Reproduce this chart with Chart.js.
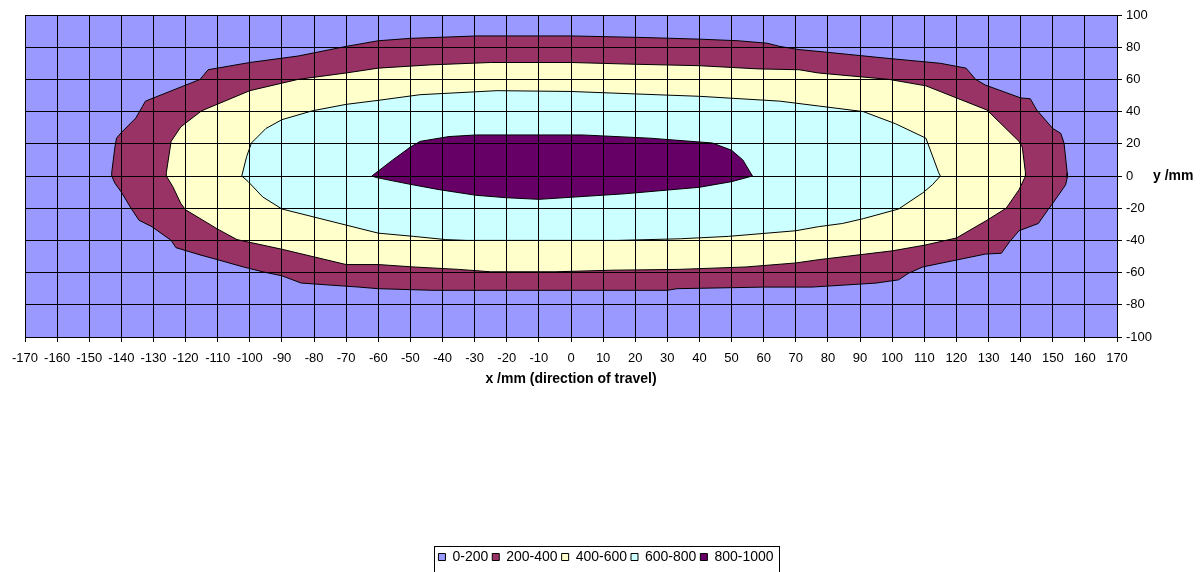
<!DOCTYPE html>
<html>
<head>
<meta charset="utf-8">
<script src="https://cdn.jsdelivr.net/npm/chart.js@4.4.1/dist/chart.umd.min.js"></script>
<style>
    html, body { margin: 0; padding: 0; background: #fff; }
    #wrap { width: 1203px; height: 572px; }
</style>
</head>
<body>
<div id="wrap"><canvas id="graficoContorno" width="1203" height="572"></canvas></div>
<script>
// ======================================
// DADOS (em mm)
// ======================================
const faixas = ['0-200', '200-400', '400-600', '600-800', '800-1000'];

const ticksX = [-170, -160, -150, -140, -130, -120, -110, -100, -90, -80, -70, -60, -50, -40, -30, -20, -10,
    0, 10, 20, 30, 40, 50, 60, 70, 80, 90, 100, 110, 120, 130, 140, 150, 160, 170];
const ticksY = [-100, -80, -60, -40, -20, 0, 20, 40, 60, 80, 100];

// fundo: faixa 0-200 ocupa toda a área
const contorno0 = [[-170, -100], [-170, 100], [170, 100], [170, -100], [-170, -100]];

// fronteira 0-200 / 200-400
const contorno200 = [[-143, 0], [-143, 2], [-142, 18], [-141.5, 23.5], [-140, 27], [-135.5, 36], [-133.5, 43],
    [-132.5, 46.5], [-115.5, 60], [-113, 66], [-100, 70.5], [-85, 74.5], [-70, 80.5], [-60, 84], [-50, 85.5],
    [-29, 87], [0, 87], [23, 86], [40, 85], [52, 84], [61, 82.5], [65, 80.5], [71, 78.5], [79, 77], [99, 73],
    [115, 70], [123, 67], [126, 60], [129, 56.5], [140, 48.5], [143, 48], [145, 41], [150, 29.5], [152.5, 26.5],
    [153.5, 20.5], [154.5, 2], [154.5, -1], [154, -5.5], [150, -17], [148.5, -21], [145.5, -29.5], [139.5, -34],
    [136.5, -41], [134, -48], [129, -48.5], [109.5, -56.5], [105, -60.5], [102, -64.5], [95, -66.5], [75, -69],
    [60, -69], [33, -70], [30, -71], [-43, -71], [-60, -70], [-66, -69], [-84, -66.5], [-90, -62], [-96, -59.5],
    [-102, -56.5], [-110, -52], [-115.5, -49], [-123, -44.5], [-124.5, -40], [-130.5, -31.5], [-134.5, -27.5],
    [-137, -20], [-140, -10], [-142, -4.5], [-143, 0]];

// fronteira 200-400 / 400-600
const contorno400 = [[-126, 0], [-126, 2], [-124.5, 21.5], [-121.5, 30.5], [-115, 40.5], [-100, 53], [-85, 60],
    [-70, 64], [-60, 67], [-44, 69], [-25, 70.5], [0, 70.5], [18, 69.5], [40, 68.5], [58.5, 66.5], [71, 66],
    [77, 64], [99, 60], [110.5, 56], [120, 48.5], [129.5, 41], [139.5, 21.5], [140.5, 18], [141.5, 2], [141.5, 0],
    [139.5, -8.5], [135.5, -20], [129.5, -27.5], [120, -38.5], [110, -43], [100, -46.5], [77, -52], [70, -54],
    [54.5, -56.5], [33.5, -58], [13, -58.5], [-5, -59.5], [-25, -59.5], [-35, -58], [-49, -56.5], [-60, -55],
    [-70, -55], [-90, -45.5], [-104, -39.5], [-110, -33], [-120, -21], [-121.5, -17], [-124, -6.5], [-126, 0]];

// fronteira 400-600 / 600-800
const contorno600 = [[-102.5, 0], [-101, 12], [-99.5, 20.5], [-95, 29.5], [-90, 35], [-80.5, 40.5], [-70, 44.5],
    [-60, 47], [-47, 50.5], [-23, 53], [0, 52.5], [13, 51.5], [40, 49.5], [65, 46.5], [77, 43.5], [91, 40],
    [101, 32.5], [110.5, 23.5], [114.5, 2], [115, 0], [112.5, -5.5], [109.5, -10.5], [102, -20.5], [91, -26.5],
    [84.5, -29.5], [77, -31.5], [70, -34], [49, -37.5], [34, -39], [14.5, -40], [-32.5, -40], [-39, -39.5],
    [-49, -37.5], [-60, -35.5], [-70, -30.5], [-90, -20.5], [-96, -13], [-100.5, -3.5], [-102.5, 0]];

// fronteira 600-800 / 800-1000
const contorno800 = [[-62, 0], [-55.5, 10], [-50, 18], [-47, 21.5], [-38, 24.5], [-29.5, 25.5], [3.5, 25.5],
    [24.5, 23.5], [44, 20.5], [50, 16], [53.5, 10], [56.5, 0], [50, -3.5], [40, -7], [17, -11], [-10, -14.5],
    [-20, -13.5], [-29.5, -12], [-41, -8.5], [-50.5, -5], [-60.5, -1], [-62, 0]];

const contornos = [contorno0, contorno200, contorno400, contorno600, contorno800];

// estilos
const coresFaixas = ['#9999FF', '#993366', '#FFFFCC', '#CCFFFF', '#660066'];
const fonte = 'Liberation Sans, Arial, sans-serif';

// ======================================
// PLUGINS
// ======================================
// moldura em volta da legenda
const molduraLegenda = {
    id: 'molduraLegenda',
    afterDraw(chart) {
        const caixas = chart.legend && chart.legend.legendHitBoxes;
        if (!caixas || !caixas.length) return;
        const esq = Math.min(...caixas.map(c => c.left)) - 4;
        const dir = Math.max(...caixas.map(c => c.left + c.width)) + 6;
        const topo = caixas[0].top - 4;
        const base = chart.height + 2;
        const ctx = chart.ctx;
        ctx.save();
        ctx.strokeStyle = '#000';
        ctx.lineWidth = 1;
        ctx.strokeRect(Math.round(esq) + 0.5, Math.round(topo) + 0.5, Math.round(dir - esq), Math.round(base - topo));
        ctx.restore();
    }
};

// título horizontal do eixo y (à direita)
const tituloY = {
    id: 'tituloY',
    afterDraw(chart) {
        const ctx = chart.ctx;
        const escalaY = chart.scales.y;
        ctx.save();
        ctx.fillStyle = '#000';
        ctx.font = 'bold 14px ' + fonte;
        ctx.textAlign = 'left';
        ctx.textBaseline = 'middle';
        ctx.fillText('y /mm', 1153, escalaY.getPixelForValue(0));
        ctx.restore();
    }
};

// ======================================
// GRÁFICO
// ======================================
const datasets = contornos.map((pts, i) => ({
    label: faixas[i],
    data: pts.map(p => ({ x: p[0], y: p[1] })),
    showLine: true,
    fill: 'shape',
    backgroundColor: coresFaixas[i],
    borderColor: '#000',
    borderWidth: i === 0 ? 0 : 1,
    pointRadius: 0,
    pointHoverRadius: 0,
    tension: 0,
    order: contornos.length - i
}));

const gradeNaFrente = { color: '#000', lineWidth: 1, tickLength: 5, tickColor: '#000', z: 1 };

new Chart(document.getElementById('graficoContorno'), {
    type: 'scatter',
    data: { datasets },
    plugins: [molduraLegenda, tituloY],
    options: {
        responsive: false,
        animation: false,
        devicePixelRatio: 1,
        layout: { padding: { left: 25, right: 16, top: 15, bottom: -2 } },
        plugins: {
            tooltip: { enabled: false },
            legend: {
                position: 'bottom',
                labels: {
                    color: '#000',
                    font: { family: fonte, size: 14 },
                    boxWidth: 7,
                    boxHeight: 7,
                    padding: 4,
                    sort: (a, b) => a.datasetIndex - b.datasetIndex,
                    generateLabels(chart) {
                        return Chart.defaults.plugins.legend.labels.generateLabels(chart).map(item => {
                            item.strokeStyle = '#000';
                            item.lineWidth = 1;
                            return item;
                        });
                    }
                }
            }
        },
        scales: {
            x: {
                type: 'linear',
                min: -170,
                max: 170,
                afterBuildTicks(scale) { scale.ticks = ticksX.map(v => ({ value: v })); },
                afterFit(scale) { scale.height = 209; },
                grid: gradeNaFrente,
                border: { color: '#000', z: 1 },
                ticks: {
                    color: '#000',
                    font: { family: fonte, size: 13 },
                    autoSkip: false,
                    maxRotation: 0,
                    padding: 9
                },
                title: {
                    display: true,
                    text: 'x /mm (direction of travel)',
                    color: '#000',
                    font: { family: fonte, size: 14, weight: 'bold' },
                    padding: { top: 8, bottom: 158 }
                }
            },
            y: {
                type: 'linear',
                position: 'right',
                min: -100,
                max: 100,
                afterBuildTicks(scale) { scale.ticks = ticksY.map(v => ({ value: v })); },
                afterFit(scale) { scale.width = 70; },
                grid: gradeNaFrente,
                border: { color: '#000', z: 1 },
                ticks: {
                    color: '#000',
                    font: { family: fonte, size: 13 },
                    padding: 4
                }
            }
        }
    }
});
</script>
</body>
</html>
